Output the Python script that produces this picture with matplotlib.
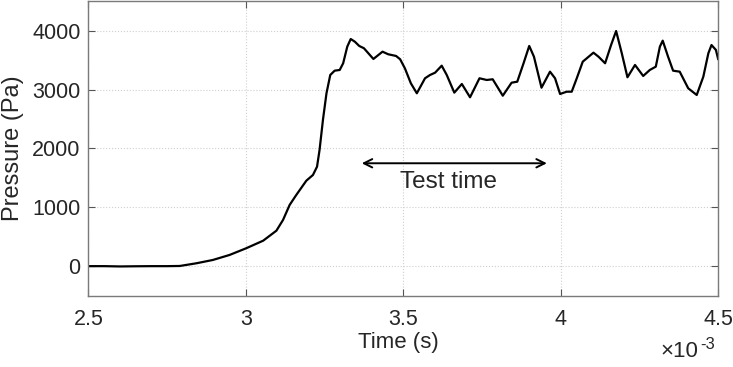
import numpy as np
import matplotlib
matplotlib.use("Agg")
import matplotlib.pyplot as plt

# time in ms (axis shows x10^-3 s), pressure in Pa
time_ms = [2.50, 2.55, 2.60, 2.65, 2.70, 2.75, 2.790, 2.843, 2.895, 2.948, 3.001, 3.055,
           3.097, 3.118, 3.139, 3.160, 3.192, 3.213, 3.226, 3.234, 3.245, 3.256, 3.268,
           3.282, 3.298, 3.309, 3.322, 3.333, 3.346, 3.360, 3.375, 3.389, 3.405, 3.417,
           3.434, 3.452, 3.477, 3.490, 3.505, 3.524, 3.543, 3.569, 3.585, 3.601, 3.622,
           3.638, 3.662, 3.686, 3.712, 3.742, 3.765, 3.784, 3.816, 3.844, 3.862, 3.882,
           3.900, 3.915, 3.939, 3.966, 3.982, 3.998, 4.019, 4.035, 4.051, 4.070, 4.104,
           4.120, 4.141, 4.160, 4.176, 4.194, 4.212, 4.236, 4.262, 4.283, 4.302, 4.315,
           4.324, 4.341, 4.357, 4.378, 4.405, 4.432, 4.453, 4.469, 4.479, 4.493, 4.50]
pressure = [0, 0, -5, -2, 0, 0, 3, 49, 105, 190, 304, 433,
            603, 785, 1040, 1209, 1452, 1549, 1690, 1974, 2495, 2937, 3248,
            3321, 3333, 3447, 3729, 3859, 3814, 3741, 3702, 3617, 3520, 3571,
            3644, 3600, 3571, 3515, 3362, 3107, 2937, 3192, 3248, 3287, 3406,
            3248, 2948, 3095, 2869, 3192, 3163, 3175, 2896, 3117, 3134, 3447,
            3741, 3559, 3032, 3304, 3192, 2925, 2964, 2964, 3192, 3474, 3627,
            3559, 3447, 3757, 3995, 3617, 3209, 3418, 3231, 3333, 3389, 3729,
            3831, 3559, 3321, 3304, 3022, 2908, 3219, 3617, 3757, 3673, 3520]

xticks = [2.5, 3.0, 3.5, 4.0, 4.5]
xticklabels = ["2.5", "3", "3.5", "4", "4.5"]
yticks = [0, 1000, 2000, 3000, 4000]
yticklabels = ["0", "1000", "2000", "3000", "4000"]
arrow_span = [3.368, 3.956]
arrow_y = 1748
label_text = "Test time"

plt.rcParams['font.family'] = ['Liberation Sans', 'DejaVu Sans']

txt = "#262626"
fig = plt.figure(figsize=(7.33, 3.67), dpi=100)
ax = fig.add_axes([0.1207, 0.1946, 0.859, 0.8019])

ax.plot(time_ms, pressure, color="black", linewidth=1.6, solid_joinstyle="round")
ax.set_xlim(2.5, 4.5)
ax.set_ylim(-500, 4500)
ax.set_xticks(xticks)
ax.set_xticklabels(xticklabels)
ax.set_yticks(yticks)
ax.set_yticklabels(yticklabels)
ax.grid(True, color="#cfcfcf", linestyle=":", linewidth=0.8)
ax.tick_params(direction="in", top=True, right=True, labelsize=15.5, length=5,
               color="#555555", labelcolor=txt)
ax.tick_params(axis="x", pad=9.4)
ax.tick_params(axis="y", pad=5.8)
for s in ax.spines.values():
    s.set_color("#7a7a7a")
    s.set_linewidth(1.0)

ax.set_xlabel("Time (s)", fontsize=16, color=txt)
ax.xaxis.set_label_coords(0.492, -0.125)
ax.set_ylabel("Pressure (Pa)", fontsize=17, color=txt)
ax.yaxis.set_label_coords(-0.102, 0.5)

ax.annotate("", xy=(arrow_span[0], arrow_y), xytext=(arrow_span[1], arrow_y),
            arrowprops=dict(arrowstyle="<->", color="black", lw=1.4,
                            shrinkA=0, shrinkB=0, mutation_scale=15))
ax.text(3.642, 1323, label_text, fontsize=17.5, ha="center", va="baseline", color=txt)

fig.text(0.9004, 0.027, "\u00d710", fontsize=16, color=txt, ha="left", va="baseline")
fig.text(0.955, 0.049, "-3", fontsize=12, color=txt, ha="left", va="baseline")

fig.savefig("out.png", dpi=100)
